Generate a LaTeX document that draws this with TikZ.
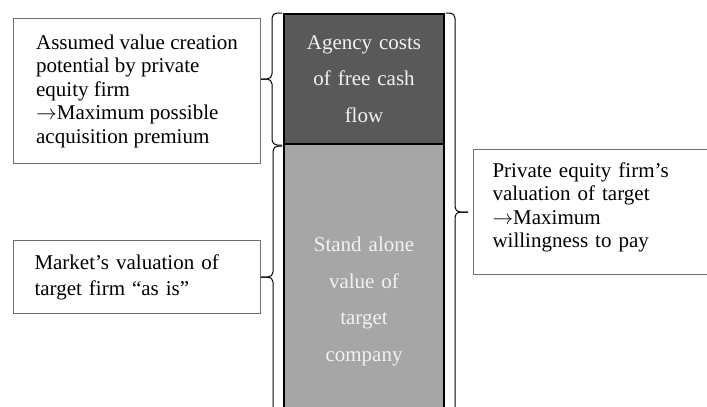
\documentclass[tikz,border=0pt]{standalone}
\usepackage{fontspec}
\setmainfont{Liberation Serif}
\usepackage{xcolor}

\definecolor{agencygray}{HTML}{595959}
\definecolor{standgray}{HTML}{A6A6A6}
\definecolor{framegray}{HTML}{6E6E6E}
\definecolor{barwhite}{HTML}{F2F2F2}

\begin{document}
\begin{tikzpicture}[x=1pt, y=-1pt,
	textbox/.style={draw=framegray, line width=1pt, fill=white, anchor=north west, align=left, font=\fontsize{21}{23.5}\selectfont},
	barbox/.style={draw=black, line width=2pt, anchor=north west, minimum width=160pt, text width=140pt, align=center, text=barwhite, font=\fontsize{21}{36.7}\selectfont},
	curly/.style={draw=black, line width=1pt, rounded corners=5pt}]
	\useasboundingbox (0,0) rectangle (707,407);
	\clip (0,0) rectangle (707,407);
	
	% Stacked bar in the middle
	\node[barbox, fill=standgray, minimum height=319pt] (standalone) at (283,141) {Stand alone\\value of\\target\\company};
	\node[barbox, fill=agencygray, minimum height=130pt] (agency) at (283,13) {Agency costs\\of free cash\\flow};
	
	% Boxes on the left
	\node[textbox, inner xsep=0pt, minimum width=247pt, minimum height=145pt] (premium) at (13,18) {Assumed value creation\\potential by private\\equity firm\\$\rightarrow$Maximum possible\\acquisition premium};
	\node[textbox, inner xsep=21pt, text width=205pt, minimum height=73pt, font=\fontsize{21}{26}\selectfont] (market) at (13,240) {Market’s valuation of\\target firm “as is”};
	
	% Box on the right
	\node[textbox, inner xsep=19pt, text width=196pt, minimum height=125pt] (valuation) at (473,149) {Private equity firm’s\\valuation of target\\$\rightarrow$Maximum\\willingness to pay\\[-10pt]\mbox{}};
	
	% Braces
	\coordinate (lowtop) at (282,146);
	\coordinate (lowend) at (282,416);
	\coordinate (rightend) at (444,416);
	\draw[curly] ([xshift=-1pt]agency.north west) -| ([xshift=-11pt]agency.west) -- (premium.east |- agency.west);
	\draw[curly] ([xshift=-1pt]agency.south west) -| ([xshift=-11pt]agency.west) -- (premium.east |- agency.west);
	\draw[curly] (lowtop) -| ([xshift=12pt]market.east) -- (market.east);
	\draw[curly] (lowend) -| ([xshift=12pt]market.east) -- (market.east);
	\draw[curly] ([xshift=1pt]agency.north east) -| ([xshift=-18pt]valuation.west) -- ([xshift=-5pt]valuation.west);
	\draw[curly] (rightend) -| ([xshift=-18pt]valuation.west) -- ([xshift=-5pt]valuation.west);
\end{tikzpicture}
\end{document}
